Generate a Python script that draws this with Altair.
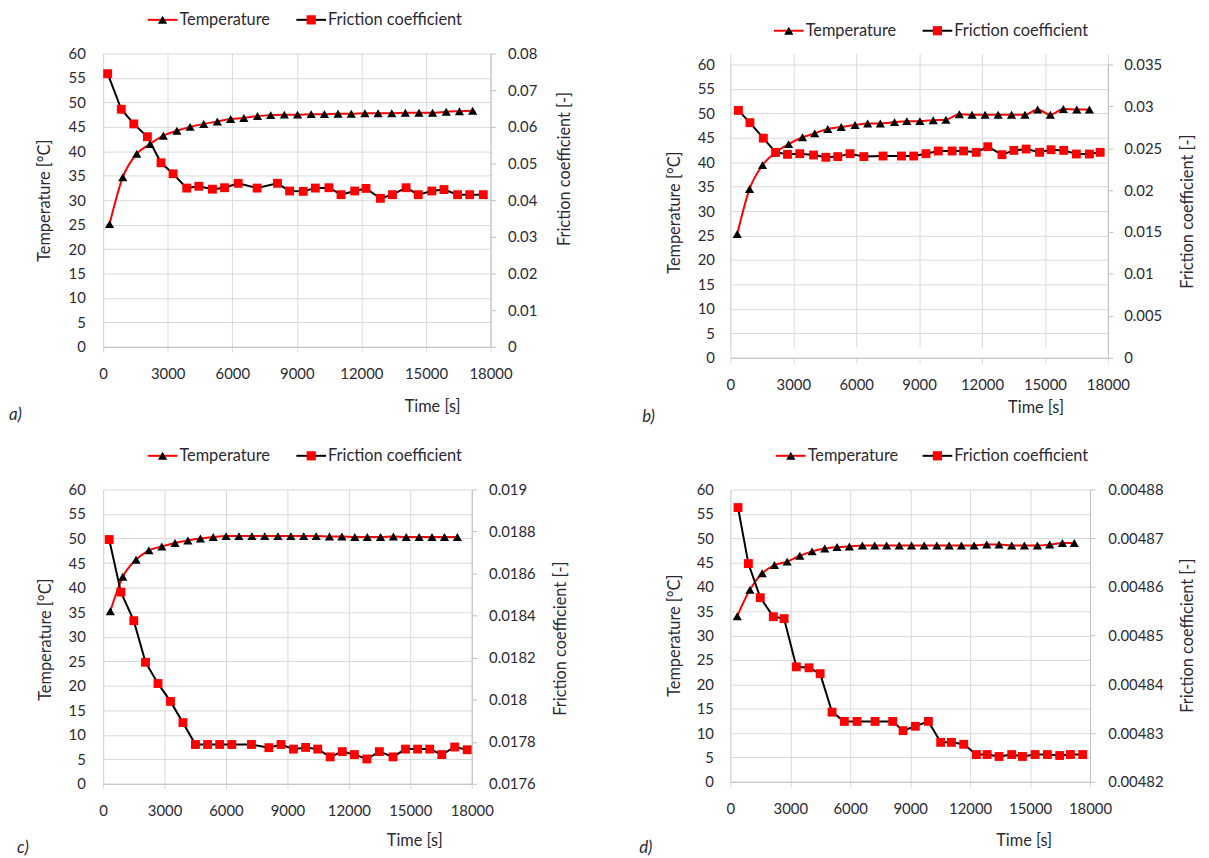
import altair as alt
import pandas as pd

FONT = "Lato"
TXT = "#2a2a33"
GRID = "#d9d9d9"
AXL = "#bfbfbf"

SERIES = ["Temperature", "Friction coefficient"]
X_TICKS = [0, 3000, 6000, 9000, 12000, 15000, 18000]
T_TICKS = [0, 5, 10, 15, 20, 25, 30, 35, 40, 45, 50, 55, 60]

# ---------------- panel a ----------------
A_TEMP_TIME = [299, 914, 1564, 2179, 2794, 3427, 4042, 4675, 5308, 5923, 6538, 7170, 7786, 8418,
               9033, 9666, 10281, 10914, 11529, 12162, 12777, 13410, 14042, 14675, 15308, 15940, 16555, 17170]
A_TEMP = [25.1, 34.7, 39.5, 41.5, 43.2, 44.2, 45.0, 45.6, 46.1, 46.6, 46.8, 47.2, 47.4, 47.5,
          47.5, 47.6, 47.6, 47.7, 47.7, 47.8, 47.8, 47.8, 47.9, 47.9, 47.9, 48.1, 48.2, 48.3]
A_FRIC_TIME = [211, 844, 1424, 2056, 2689, 3251, 3884, 4446, 5079, 5641, 6274, 7153, 8102, 8664, 9297,
               9859, 10492, 11054, 11687, 12214, 12882, 13445, 14077, 14640, 15272, 15835, 16467, 17030, 17663]
A_FRIC = [0.0745, 0.0648, 0.0608, 0.0573, 0.0502, 0.0472, 0.0433, 0.0438, 0.0430, 0.0434, 0.0446, 0.0433,
          0.0446, 0.0425, 0.0424, 0.0433, 0.0434, 0.0415, 0.0425, 0.0432, 0.0405, 0.0415, 0.0434, 0.0415,
          0.0425, 0.0429, 0.0415, 0.0415, 0.0415]
A_FRIC_TICKS = [0, 0.01, 0.02, 0.03, 0.04, 0.05, 0.06, 0.07, 0.08]

# ---------------- panel b ----------------
B_TEMP_TIME = [329, 915, 1536, 2158, 2780, 3439, 4024, 4646, 5286, 5945, 6548, 7152, 7829, 8414,
               9036, 9676, 10280, 10920, 11524, 12146, 12768, 13408, 14048, 14652, 15255, 15877, 16518, 17121]
B_TEMP = [25.3, 34.5, 39.4, 42.0, 43.7, 45.1, 45.9, 46.8, 47.2, 47.6, 47.9, 47.9, 48.2, 48.4,
          48.4, 48.6, 48.7, 49.8, 49.7, 49.7, 49.7, 49.7, 49.7, 50.8, 49.7, 50.9, 50.8, 50.8]
B_FRIC_TIME = [384, 933, 1573, 2158, 2725, 3311, 3969, 4555, 5122, 5707, 6365, 7280, 8158, 8743, 9329,
               9914, 10573, 11121, 11725, 12274, 12951, 13518, 14103, 14743, 15292, 15896, 16499, 17121, 17633]
B_FRIC = [0.02951, 0.02805, 0.02620, 0.02451, 0.02427, 0.02435, 0.02419, 0.02392, 0.02400, 0.02435,
          0.02400, 0.02407, 0.02407, 0.02407, 0.02435, 0.02467, 0.02467, 0.02467, 0.02451, 0.02518,
          0.02423, 0.02474, 0.02490, 0.02451, 0.02482, 0.02474, 0.02431, 0.02431, 0.02451]
B_FRIC_TICKS = [0, 0.005, 0.01, 0.015, 0.02, 0.025, 0.03, 0.035]

# ---------------- panel c ----------------
C_TEMP_TIME = [351, 961, 1608, 2236, 2865, 3511, 4140, 4750, 5378, 6006, 6635, 7263, 7891, 8538,
               9167, 9795, 10405, 11052, 11662, 12290, 12900, 13547, 14175, 14803, 15432, 16060, 16670, 17298]
C_TEMP = [35.2, 42.2, 45.7, 47.6, 48.4, 49.1, 49.6, 50.0, 50.3, 50.5, 50.5, 50.5, 50.5, 50.5,
          50.5, 50.5, 50.5, 50.4, 50.4, 50.3, 50.3, 50.3, 50.4, 50.3, 50.3, 50.3, 50.3, 50.3]
C_FRIC_TIME = [296, 869, 1497, 2070, 2680, 3290, 3899, 4509, 5101, 5692, 6283, 7244, 8094, 8686, 9296,
               9887, 10479, 11089, 11680, 12271, 12881, 13491, 14157, 14766, 15358, 15949, 16540, 17169, 17779]
C_FRIC = [0.018762, 0.018512, 0.018376, 0.018178, 0.018077, 0.017992, 0.017891, 0.017787, 0.017787,
          0.017787, 0.017787, 0.017787, 0.017772, 0.017787, 0.017765, 0.017773, 0.017765, 0.017728,
          0.017753, 0.017739, 0.017718, 0.017753, 0.017728, 0.017765, 0.017765, 0.017765, 0.017739,
          0.017775, 0.017762]
C_FRIC_TICKS = [0.0176, 0.0178, 0.018, 0.0182, 0.0184, 0.0186, 0.0188, 0.019]

# ---------------- panel d ----------------
D_TEMP_TIME = [346, 980, 1594, 2209, 2843, 3477, 4091, 4725, 5340, 5955, 6608, 7222, 7818, 8452,
               9067, 9700, 10334, 10949, 11564, 12198, 12832, 13446, 14080, 14714, 15367, 15982, 16616, 17211]
D_TEMP = [34.0, 39.4, 42.8, 44.5, 45.2, 46.4, 47.3, 47.9, 48.2, 48.3, 48.5, 48.5, 48.5, 48.5,
          48.5, 48.5, 48.5, 48.5, 48.5, 48.5, 48.7, 48.7, 48.5, 48.5, 48.5, 48.7, 49.0, 49.0]
D_FRIC_TIME = [384, 903, 1498, 2151, 2689, 3304, 3938, 4495, 5090, 5705, 6339, 7242, 8125, 8644, 9259,
               9912, 10526, 11064, 11679, 12313, 12851, 13446, 14080, 14618, 15252, 15867, 16481, 17019, 17634]
D_FRIC = [0.0048763, 0.0048648, 0.0048578, 0.0048539, 0.0048535, 0.0048436, 0.0048434, 0.0048422,
          0.0048343, 0.0048324, 0.0048324, 0.0048324, 0.0048324, 0.0048305, 0.0048314, 0.0048324,
          0.0048281, 0.0048281, 0.0048277, 0.0048256, 0.0048256, 0.0048252, 0.0048256, 0.0048252,
          0.0048256, 0.0048256, 0.0048254, 0.0048256, 0.0048256]
D_FRIC_TICKS = [0.00482, 0.00483, 0.00484, 0.00485, 0.00486, 0.00487, 0.00488]


def panel(tt, tv, ft, fv, fticks, P):
    w, h, off = P["w"], P["h"], P.get("off", 0)
    tdf = pd.DataFrame({"t": tt, "v": tv})
    fdf = pd.DataFrame({"t": ft, "v": fv})
    leg = pd.DataFrame({"s": SERIES})

    xs = alt.Scale(domain=[0, 18000], nice=False)
    ts = alt.Scale(domain=[0, 60], nice=False, range=[h + off, off])
    fs = alt.Scale(domain=[fticks[0], fticks[-1]], nice=False, zero=False, range=[h + off, off])

    xaxis = alt.Axis(values=X_TICKS, format="d", title="Time [s]", grid=True, gridColor=GRID,
                     tickColor=GRID, tickSize=5, domainColor=AXL, labelPadding=15,
                     labelFontSize=15, labelFlush=False, labelOverlap=False,
                     titleFontSize=16.5, titleX=P["tx"], titleY=P["ty"],
                     titleAlign="center", titleBaseline="middle")
    taxis = alt.Axis(values=T_TICKS, orient="left", title="Temperature [°C]", grid=True,
                     gridColor=GRID, ticks=False, tickSize=0, domainColor=GRID,
                     labelPadding=P["lp"], labelFontSize=15, labelFlush=False,
                     labelOverlap=False, titleFontSize=16.5, titleX=P["ltx"], titleY=P["lty"] + off,
                     titleAngle=270, titleAlign="center", titleBaseline="middle")
    faxis = alt.Axis(values=fticks, orient="right", title="Friction coefficient [-]",
                     grid=False, format="~g", tickColor=AXL, tickSize=5, domainColor=AXL,
                     labelPadding=P["rp"], labelFontSize=15, labelFlush=False,
                     labelOverlap=False, titleFontSize=16.5, titleX=P["rtx"], titleY=P["rty"] + off,
                     titleAngle=270, titleAlign="center", titleBaseline="middle")

    tline = alt.Chart(tdf).mark_line(color="red", strokeWidth=2, interpolate="monotone").encode(
        x=alt.X("t:Q", scale=xs, axis=xaxis), y=alt.Y("v:Q", scale=ts, axis=taxis))
    fline = alt.Chart(fdf).mark_line(color="black", strokeWidth=2).encode(
        x=alt.X("t:Q", scale=xs, axis=None), y=alt.Y("v:Q", scale=fs, axis=faxis))
    tpts = alt.Chart(tdf).mark_point(shape="triangle-up", filled=True, color="black",
                                     size=86, opacity=1).encode(
        x=alt.X("t:Q", scale=xs, axis=None), y=alt.Y("v:Q", scale=ts, axis=None))
    fpts = alt.Chart(fdf).mark_point(shape="square", filled=True, color="red",
                                     size=80, opacity=1).encode(
        x=alt.X("t:Q", scale=xs, axis=None), y=alt.Y("v:Q", scale=fs, axis=None))

    ls = alt.Scale(type="point", domain=SERIES, range=P["leg"], padding=0)
    ly = alt.value(-34 + off)
    lrule = alt.Chart(leg).mark_rule(strokeWidth=2, xOffset=-15, x2Offset=15).encode(
        x=alt.X("s:N", scale=ls, axis=None), x2="s:N", y=ly,
        stroke=alt.Stroke("s:N", scale=alt.Scale(domain=SERIES, range=["red", "black"]), legend=None))
    lpts = alt.Chart(leg).mark_point(filled=True, size=86, opacity=1).encode(
        x=alt.X("s:N", scale=ls, axis=None), y=ly,
        shape=alt.Shape("s:N", scale=alt.Scale(domain=SERIES, range=["triangle-up", "square"]), legend=None),
        fill=alt.Fill("s:N", scale=alt.Scale(domain=SERIES, range=["black", "red"]), legend=None))
    ltxt = alt.Chart(leg).mark_text(align="left", baseline="middle", dx=17, font=FONT,
                                    fontSize=16.5, color=TXT).encode(
        x=alt.X("s:N", scale=ls, axis=None), y=ly, text="s:N")

    return alt.layer(tline, fline, tpts, fpts, lrule, lpts, ltxt).resolve_scale(
        x="independent", y="independent").properties(
        width=w, height=h + off,
        title=alt.TitleParams(text=P["label"], orient="bottom", anchor="start", frame="group",
                              font=FONT, fontSize=17, fontStyle="italic", fontWeight="normal",
                              color=TXT, dx=P["ldx"], dy=P["ldy"], offset=0))


pa = panel(A_TEMP_TIME, A_TEMP, A_FRIC_TIME, A_FRIC, A_FRIC_TICKS,
           dict(w=391, h=296, leg=[60, 210], tx=332, ty=60, ltx=-59, lty=148, rtx=75, rty=116,
                lp=18, rp=12, label="a)", ldx=-95, ldy=-8))
pb = panel(B_TEMP_TIME, B_TEMP, B_FRIC_TIME, B_FRIC, B_FRIC_TICKS,
           dict(w=381, h=296, off=11, leg=[59, 209], tx=308, ty=50, ltx=-56, lty=149, rtx=80,
                rty=148, lp=16, rp=11, label="b)", ldx=-89, ldy=-7))
pc = panel(C_TEMP_TIME, C_TEMP, C_FRIC_TIME, C_FRIC, C_FRIC_TICKS,
           dict(w=372, h=297, leg=[60, 210], tx=314, ty=57, ltx=-58, lty=151, rtx=90, rty=150,
                lp=18, rp=12, label="c)", ldx=-87, ldy=-9))
pd_ = panel(D_TEMP_TIME, D_TEMP, D_FRIC_TIME, D_FRIC, D_FRIC_TICKS,
            dict(w=363, h=295, leg=[61, 209], tx=296, ty=59, ltx=-56, lty=147, rtx=98, rty=147,
                 lp=17, rp=13, label="d)", ldx=-92, ldy=-9))

chart = alt.concat(pa, pb, pc, pd_, columns=2, bounds="flush",
                   spacing={"row": 133, "column": 242}).properties(
    padding={"left": 1, "top": 0, "right": 5, "bottom": 5}
).configure_view(stroke=None).configure_axis(
    labelFont=FONT, titleFont=FONT, labelColor=TXT, titleColor=TXT, titleFontWeight="normal"
).configure_title(font=FONT)

chart.save("out.html", embed_options={"renderer": "svg", "actions": False})
